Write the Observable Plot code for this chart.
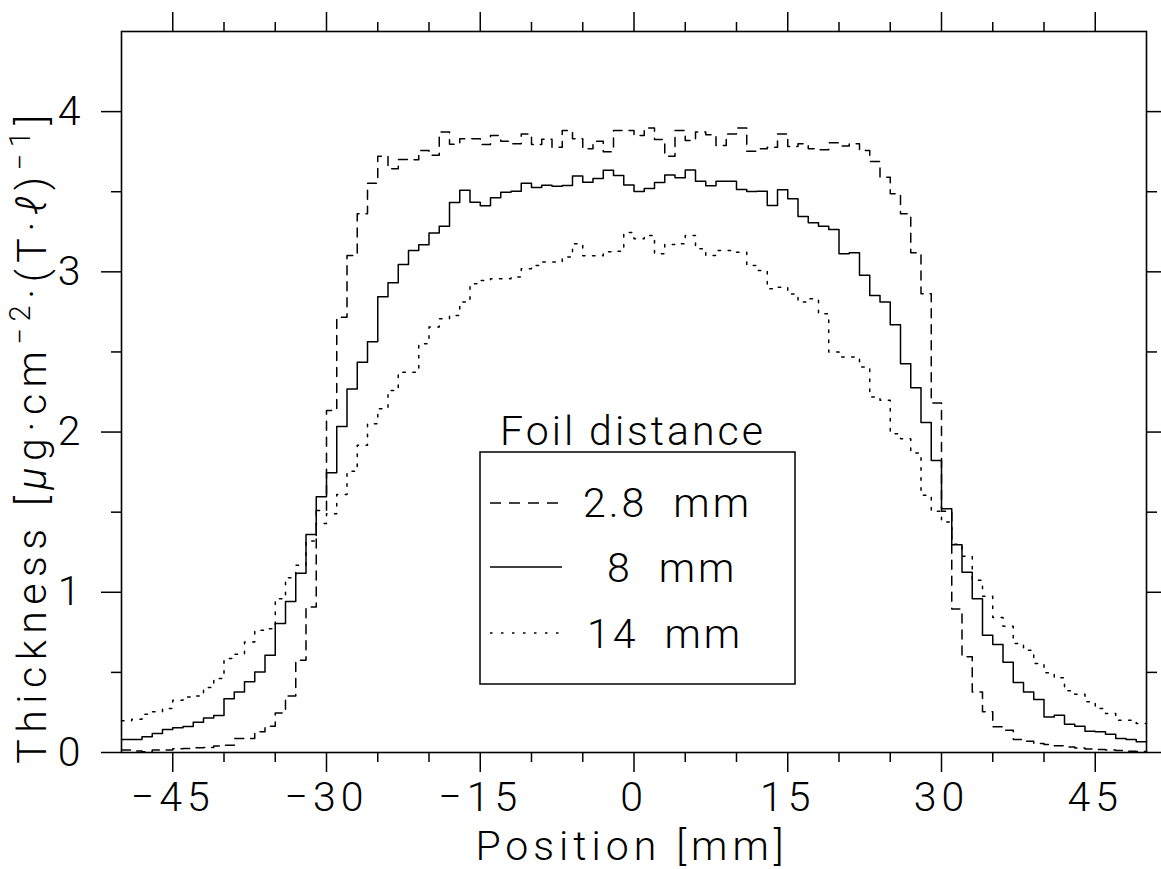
<!DOCTYPE html>
<html>
<head>
<meta charset="utf-8">
<script src="https://cdn.jsdelivr.net/npm/d3@7"></script>
<script src="https://cdn.jsdelivr.net/npm/@observablehq/plot@0.6"></script>
<style>
  html, body { margin: 0; padding: 0; background: #fff; }
  #chart svg { display: block; }
</style>
</head>
<body>
<div id="chart"></div>
<script>
// Bin left edges (1 mm bins), in mm
const position = [
  -50,-49,-48,-47,-46,-45,-44,-43,-42,-41,
  -40,-39,-38,-37,-36,-35,-34,-33,-32,-31,
  -30,-29,-28,-27,-26,-25,-24,-23,-22,-21,
  -20,-19,-18,-17,-16,-15,-14,-13,-12,-11,
  -10,-9,-8,-7,-6,-5,-4,-3,-2,-1,
  0,1,2,3,4,5,6,7,8,9,
  10,11,12,13,14,15,16,17,18,19,
  20,21,22,23,24,25,26,27,28,29,
  30,31,32,33,34,35,36,37,38,39,
  40,41,42,43,44,45,46,47,48,49
];

// Foil distance 2.8 mm (dashed)
const thick28 = [
  0.015,0.010,0.005,0.015,0.016,0.023,0.025,0.029,0.031,0.040,
  0.045,0.087,0.088,0.129,0.164,0.247,0.353,0.576,0.908,1.511,
  2.135,2.717,3.102,3.362,3.553,3.722,3.643,3.701,3.699,3.757,
  3.728,3.872,3.797,3.830,3.830,3.795,3.851,3.815,3.799,3.861,
  3.795,3.828,3.778,3.882,3.830,3.768,3.815,3.750,3.882,3.882,
  3.851,3.897,3.826,3.722,3.882,3.820,3.872,3.855,3.788,3.861,
  3.897,3.753,3.768,3.778,3.861,3.782,3.799,3.768,3.762,3.805,
  3.786,3.799,3.757,3.689,3.591,3.487,3.362,3.119,2.863,2.181,
  1.505,0.895,0.597,0.378,0.254,0.160,0.139,0.081,0.070,0.056,
  0.050,0.042,0.035,0.028,0.022,0.018,0.015,0.012,0.008,0.006
];

// Foil distance 8 mm (solid)
const thick8 = [
  0.081,0.081,0.098,0.119,0.143,0.154,0.162,0.189,0.216,0.231,
  0.335,0.378,0.441,0.503,0.607,0.805,0.942,1.119,1.360,1.597,
  1.746,2.035,2.268,2.435,2.564,2.845,2.932,3.046,3.133,3.169,
  3.243,3.284,3.433,3.509,3.434,3.412,3.462,3.497,3.503,3.553,
  3.527,3.540,3.534,3.539,3.598,3.559,3.582,3.634,3.602,3.542,
  3.502,3.520,3.558,3.604,3.587,3.635,3.566,3.537,3.566,3.566,
  3.514,3.502,3.503,3.414,3.512,3.456,3.346,3.307,3.284,3.264,
  3.113,3.119,2.978,2.853,2.811,2.670,2.427,2.277,2.060,1.823,
  1.522,1.297,1.125,0.960,0.732,0.674,0.563,0.437,0.378,0.331,
  0.222,0.233,0.177,0.164,0.133,0.129,0.114,0.087,0.081,0.067
];

// Foil distance 14 mm (dotted)
const thick14 = [
  0.198,0.208,0.239,0.254,0.274,0.326,0.347,0.353,0.405,0.462,
  0.586,0.613,0.690,0.763,0.773,0.960,1.091,1.168,1.320,1.430,
  1.490,1.610,1.755,1.917,2.052,2.146,2.260,2.374,2.374,2.551,
  2.655,2.707,2.728,2.811,2.926,2.946,2.957,2.957,2.967,3.020,
  3.040,3.061,3.061,3.092,3.175,3.100,3.100,3.125,3.128,3.245,
  3.206,3.227,3.113,3.170,3.175,3.227,3.144,3.102,3.133,3.133,
  3.123,3.040,3.009,2.894,2.904,2.862,2.811,2.832,2.738,2.499,
  2.468,2.468,2.406,2.219,2.198,1.990,1.959,1.870,1.605,1.505,
  1.439,1.300,1.225,1.075,0.975,0.842,0.788,0.680,0.638,0.555,
  0.497,0.466,0.385,0.364,0.316,0.274,0.243,0.202,0.202,0.181
];

const xMajorTicks = [-45, -30, -15, 0, 15, 30, 45];
const xMinorTicks = [-40, -35, -25, -20, -10, -5, 5, 10, 20, 25, 35, 40];
const yMajorTicks = [0, 1, 2, 3, 4];
const yMinorTicks = [0.5, 1.5, 2.5, 3.5];

const legendTitle = "Foil distance";
const legendLabels = ["2.8  mm", "8  mm", "14  mm"];
const xTitle = "Position [mm]";

const FONT = "Roboto, 'Open Sans', Lato, sans-serif";
const WEIGHT = 300;
const DASH = "9,7";
const DOT = "2.5,7.5";

function stepRows(values) {
  const rows = position.map((x, i) => ({x, y: values[i]}));
  rows.push({x: position[position.length - 1] + 1, y: values[values.length - 1]});
  return rows;
}

const fmt = d => (d < 0 ? "\u2212" + (-d) : String(d));

const lineOpts = {x: "x", y: "y", curve: "step-after", stroke: "#000", strokeWidth: 1.5};

const svg = Plot.plot({
  width: 1161,
  height: 869,
  marginLeft: 121,
  marginRight: 15,
  marginTop: 31,
  marginBottom: 117,
  style: {fontFamily: FONT, fontSize: "41px", fontWeight: WEIGHT, letterSpacing: "5px", background: "#fff", color: "#000"},
  x: {domain: [-50, 50]},
  y: {domain: [0, 4.5]},
  marks: [
    // bottom axis
    Plot.axisX({anchor: "bottom", ticks: xMajorTicks, tickSize: 20, tickPadding: 9, tickFormat: fmt, label: null, strokeWidth: 1.5, fontSize: 41}),
    Plot.axisX({anchor: "bottom", ticks: xMinorTicks, tickSize: 10, fill: "none", label: null, strokeWidth: 1.5}),
    // top axis
    Plot.axisX({anchor: "top", ticks: xMajorTicks, tickSize: 20, fill: "none", label: null, strokeWidth: 1.5}),
    Plot.axisX({anchor: "top", ticks: xMinorTicks, tickSize: 10, fill: "none", label: null, strokeWidth: 1.5}),
    // left axis
    Plot.axisY({anchor: "left", ticks: yMajorTicks, tickSize: 20, tickPadding: 16, tickFormat: fmt, label: null, strokeWidth: 1.5, fontSize: 41}),
    Plot.axisY({anchor: "left", ticks: yMinorTicks, tickSize: 10, fill: "none", label: null, strokeWidth: 1.5}),
    // right axis
    Plot.axisY({anchor: "right", ticks: yMajorTicks, tickSize: 20, fill: "none", label: null, strokeWidth: 1.5}),
    Plot.axisY({anchor: "right", ticks: yMinorTicks, tickSize: 10, fill: "none", label: null, strokeWidth: 1.5}),
    // curves
    Plot.line(stepRows(thick28), {...lineOpts, strokeDasharray: DASH}),
    Plot.line(stepRows(thick8), {...lineOpts}),
    Plot.line(stepRows(thick14), {...lineOpts, strokeDasharray: DOT}),
    Plot.frame({stroke: "#000", strokeWidth: 1.6})
  ]
});

const root = d3.select(svg);
const textStyle = (sel, spacing) => sel
  .style("font-family", FONT).style("font-size", "41px").style("font-weight", WEIGHT)
  .style("letter-spacing", spacing + "px").attr("fill", "#000");

// x axis title
root.append("text")
  .attr("x", 632).attr("y", 860)
  .attr("text-anchor", "middle")
  .call(textStyle, 5)
  .text(xTitle);

// y axis title with superscripts
const yt = root.append("text")
  .attr("transform", "translate(46,436) rotate(-90)")
  .attr("text-anchor", "middle")
  .call(textStyle, 6.5);
yt.append("tspan").text("Thickness [");
yt.append("tspan").style("font-style", "italic").text("\u03bc");
yt.append("tspan").text("g\u00b7cm");
yt.append("tspan").attr("dy", -16).style("font-size", "29px").text("\u22122");
yt.append("tspan").attr("dy", 16).text("\u00b7(T\u00b7");
yt.append("tspan").style("font-style", "italic").text("\u2113");
yt.append("tspan").text(")");
yt.append("tspan").attr("dy", -16).style("font-size", "29px").text("\u22121");
yt.append("tspan").attr("dy", 16).text("]");

// legend
const lg = root.append("g").call(textStyle, 3);
lg.append("text").attr("x", 633).attr("y", 445).attr("text-anchor", "middle").text(legendTitle);
lg.append("rect").attr("x", 480).attr("y", 452).attr("width", 315).attr("height", 232)
  .attr("fill", "none").attr("stroke", "#000").attr("stroke-width", 1.5);
const legendRows = [
  {label: legendLabels[0], dash: "11,8", ly: 503, tx: 583, ty: 517},
  {label: legendLabels[1], dash: null, ly: 567, tx: 607, ty: 582},
  {label: legendLabels[2], dash: "2.5,8.5", ly: 633, tx: 587, ty: 648}
];
for (const r of legendRows) {
  const ln = lg.append("line").attr("x1", 490).attr("x2", 562).attr("y1", r.ly).attr("y2", r.ly)
    .attr("stroke", "#000").attr("stroke-width", 1.5);
  if (r.dash) ln.attr("stroke-dasharray", r.dash);
  lg.append("text").attr("x", r.tx).attr("y", r.ty)
    .attr("text-anchor", "start")
    .style("white-space", "pre").attr("xml:space", "preserve")
    .text(r.label);
}

document.getElementById("chart").appendChild(svg);
</script>
</body>
</html>
